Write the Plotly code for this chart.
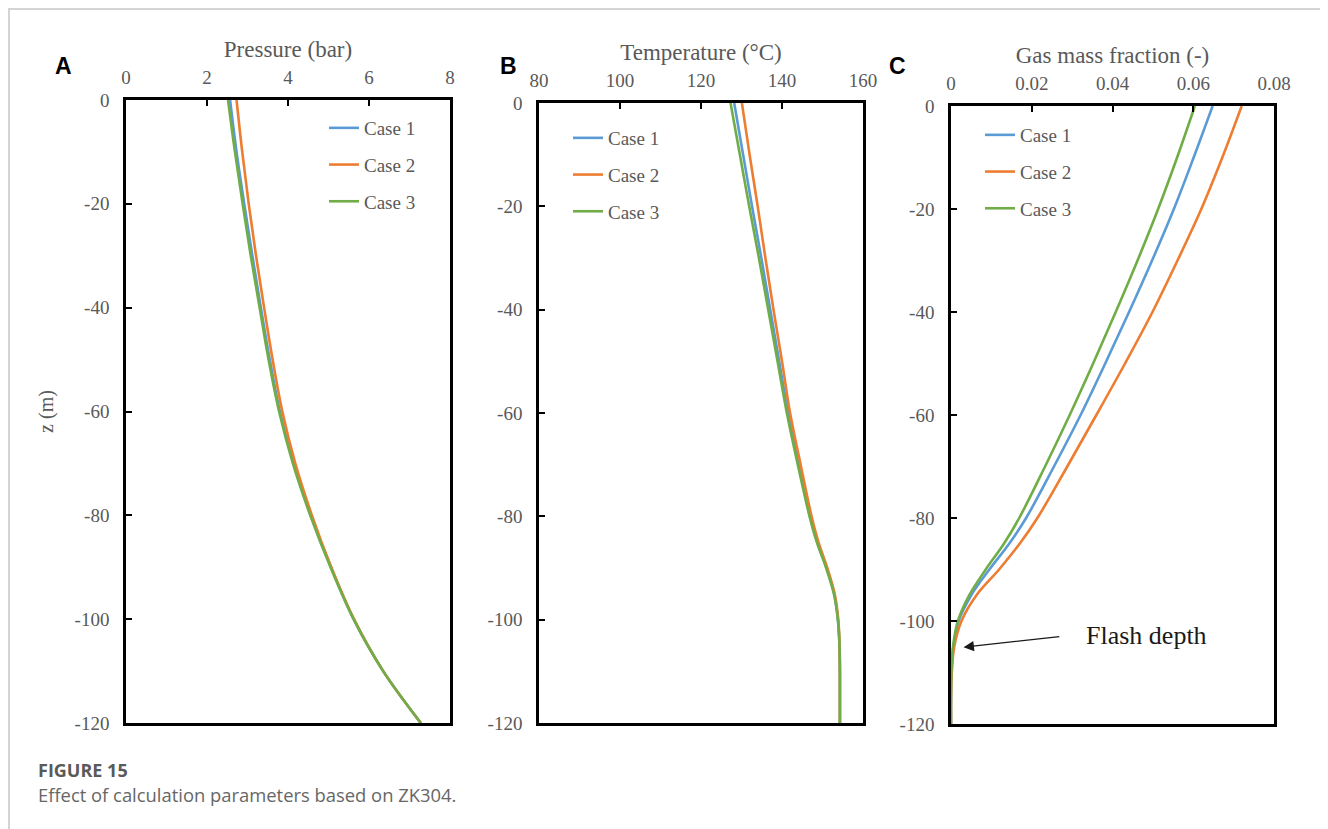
import plotly.graph_objects as go

# ---------------- data ----------------
depth_p = [0, -10, -20, -30, -40, -50, -60, -70, -80, -90, -100, -110, -120]
pressure_case1 = [2.57, 2.73, 2.92, 3.12, 3.33, 3.55, 3.80, 4.14, 4.56, 5.06, 5.62, 6.35, 7.28]
pressure_case2 = [2.73, 2.87, 3.03, 3.21, 3.41, 3.62, 3.86, 4.18, 4.59, 5.07, 5.63, 6.35, 7.28]
pressure_case3 = [2.52, 2.69, 2.88, 3.08, 3.30, 3.52, 3.78, 4.12, 4.55, 5.05, 5.62, 6.35, 7.28]

depth_t = [0, -10, -20, -30, -40, -50, -60, -70, -80, -85, -90, -95, -100, -105, -110, -120]
temp_case1 = [128.2, 130.4, 132.6, 134.9, 137.1, 139.3, 141.5, 144.1, 146.9, 148.7, 151.0, 152.9, 153.8, 154.2, 154.3, 154.3]
temp_case2 = [130.1, 132.0, 134.0, 135.9, 137.9, 140.0, 142.0, 144.6, 147.3, 149.0, 151.2, 153.0, 153.9, 154.2, 154.3, 154.3]
temp_case3 = [127.3, 129.6, 131.9, 134.3, 136.6, 138.9, 141.2, 143.9, 146.8, 148.6, 150.9, 152.8, 153.8, 154.2, 154.3, 154.3]

depth_g = [0, -10, -20, -30, -40, -50, -60, -70, -80, -85, -90, -95, -100, -105, -110, -115, -120]
gas_case1 = [0.0648, 0.0601, 0.0552, 0.0498, 0.0441, 0.0382, 0.0321, 0.0255, 0.0186, 0.0144, 0.0095, 0.0050, 0.0019, 0.0006, 0.0001, 0.0, 0.0]
gas_case2 = [0.0720, 0.0672, 0.0620, 0.0561, 0.0499, 0.0431, 0.0360, 0.0288, 0.0214, 0.0170, 0.0119, 0.0063, 0.0026, 0.0008, 0.0002, 0.0, 0.0]
gas_case3 = [0.0604, 0.0560, 0.0513, 0.0462, 0.0408, 0.0352, 0.0294, 0.0233, 0.0169, 0.0131, 0.0086, 0.0045, 0.0017, 0.0005, 0.0001, 0.0, 0.0]

case_names = ["Case 1", "Case 2", "Case 3"]
case_colors = ["#5B9BD5", "#ED7D31", "#70AD47"]

z_ticks = [0, -20, -40, -60, -80, -100, -120]
z_ticktext = ["0", "-20", "-40", "-60", "-80", "-100", "-120"]
p_ticks = [0, 2, 4, 6, 8]
t_ticks = [80, 100, 120, 140, 160]
g_ticks = [0, 0.02, 0.04, 0.06, 0.08]
g_ticktext = ["0", "0.02", "0.04", "0.06", "0.08"]

# ---------------- layout helpers ----------------
# page body adds an 8px offset; figure is sized so that it fills the window
W, H = 1320, 821
ML, MR, MT, MB = 118, 54, 92, 105
PW, PH = W - ML - MR, H - MT - MB


def px2x(sx):
    # screen x -> paper x
    return (sx - 8 - ML) / PW


def py2y(sy):
    # screen y -> paper y
    return (H - MB - (sy - 8)) / PH


SERIF = "Liberation Serif, Times New Roman, serif"
GRAY = "#595959"

fig = go.Figure()

panels = [
    ("x", "y", depth_p, [pressure_case1, pressure_case2, pressure_case3], "legend"),
    ("x2", "y2", depth_t, [temp_case1, temp_case2, temp_case3], "legend2"),
    ("x3", "y3", depth_g, [gas_case1, gas_case2, gas_case3], "legend3"),
]
for xa, ya, dep, series, leg in panels:
    for i, (name, col, vals) in enumerate(zip(case_names, case_colors, series)):
        fig.add_trace(go.Scatter(
            x=vals, y=dep, mode="lines", name=name,
            line=dict(color=col, width=2.6, shape="spline", smoothing=1.0),
            xaxis=xa, yaxis=ya, legend=leg, legendgroup=leg + str(i),
            showlegend=True,
        ))

axis_common = dict(
    showline=True, linecolor="black", linewidth=2.5, mirror=True,
    ticks="inside", ticklen=6, tickwidth=2, tickcolor="black",
    showgrid=False, zeroline=False,
    tickfont=dict(family=SERIF, size=19, color=GRAY),
)
xax = dict(axis_common, ticklabelstandoff=6)
yax = dict(axis_common, ticklabelstandoff=10)

doms = {
    "A": ([px2x(126), px2x(450)], [py2y(723), py2y(100)]),
    "B": ([px2x(539), px2x(863)], [py2y(723), py2y(103)]),
    "C": ([px2x(951), px2x(1274)], [py2y(724), py2y(106)]),
}

title_font = dict(family=SERIF, size=23, color=GRAY)

fig.update_layout(
    xaxis=dict(xax, domain=doms["A"][0], range=[0, 8], side="top", anchor="y",
               tickvals=p_ticks, title=dict(text="Pressure (bar)", font=title_font, standoff=3)),
    yaxis=dict(yax, domain=doms["A"][1], range=[-120, 0], anchor="x",
               tickvals=z_ticks, ticktext=z_ticktext,
               title=dict(text="z (m)", font=dict(family=SERIF, size=20, color=GRAY), standoff=16)),
    xaxis2=dict(xax, domain=doms["B"][0], range=[80, 160], side="top", anchor="y2",
                tickvals=t_ticks, title=dict(text="Temperature (°C)", font=title_font, standoff=3)),
    yaxis2=dict(yax, domain=doms["B"][1], range=[-120, 0], anchor="x2",
                tickvals=z_ticks, ticktext=z_ticktext),
    xaxis3=dict(xax, domain=doms["C"][0], range=[0, 0.08], side="top", anchor="y3",
                tickvals=g_ticks, ticktext=g_ticktext,
                title=dict(text="Gas mass fraction (-)", font=title_font, standoff=3)),
    yaxis3=dict(yax, domain=doms["C"][1], range=[-120, 0], anchor="x3",
                tickvals=z_ticks, ticktext=z_ticktext),
)

leg_common = dict(
    bgcolor="rgba(0,0,0,0)", borderwidth=0, xanchor="left", yanchor="top",
    font=dict(family=SERIF, size=19, color=GRAY), tracegroupgap=9,
    itemwidth=30,
)
fig.update_layout(
    legend=dict(leg_common, x=px2x(324), y=py2y(109)),
    legend2=dict(leg_common, x=px2x(568), y=py2y(119)),
    legend3=dict(leg_common, x=px2x(980), y=py2y(116)),
)

letter_font = dict(family="Liberation Sans, Arial, sans-serif", size=23, color="black")
caption_family = "Open Sans, Noto Sans, sans-serif"
annotations = [
    dict(text="<b>A</b>", x=px2x(53), y=py2y(51), xref="paper", yref="paper",
         showarrow=False, font=letter_font),
    dict(text="<b>B</b>", x=px2x(498), y=py2y(51), xref="paper", yref="paper",
         showarrow=False, font=letter_font),
    dict(text="<b>C</b>", x=px2x(908), y=py2y(51), xref="paper", yref="paper",
         showarrow=False, font=letter_font),
    dict(text="Flash depth", x=0.0485, y=-102.9, xref="x3", yref="y3", showarrow=False,
         font=dict(family=SERIF, size=26, color="#1a1a1a")),
    dict(text="", x=0.0031, y=-105.1, xref="x3", yref="y3", ax=0.0272, ay=-103.0,
         axref="x3", ayref="y3", showarrow=True, arrowhead=2, arrowsize=1.6,
         arrowwidth=1.3, arrowcolor="#1a1a1a"),
    dict(text="<b>FIGURE 15</b>", x=px2x(36), y=py2y(770), xref="paper", yref="paper",
         xanchor="left", yanchor="middle", showarrow=False,
         font=dict(family=caption_family, size=18, color="#5a5a5a")),
    dict(text="Effect of calculation parameters based on ZK304.", x=px2x(36), y=py2y(794),
         xref="paper", yref="paper", xanchor="left", yanchor="middle", showarrow=False,
         font=dict(family=caption_family, size=18.4, color="#666666")),
]
fig.update_layout(annotations=annotations)

fig.add_shape(type="rect", xref="paper", yref="paper",
              x0=px2x(9), x1=px2x(1326), y0=py2y(900), y1=py2y(9),
              line=dict(color="#d4d4d4", width=2), fillcolor="rgba(0,0,0,0)", layer="below")

fig.update_layout(
    width=W, height=H, margin=dict(l=ML, r=MR, t=MT, b=MB, autoexpand=False),
    paper_bgcolor="white", plot_bgcolor="white",
)

fig.write_html("out.html")
